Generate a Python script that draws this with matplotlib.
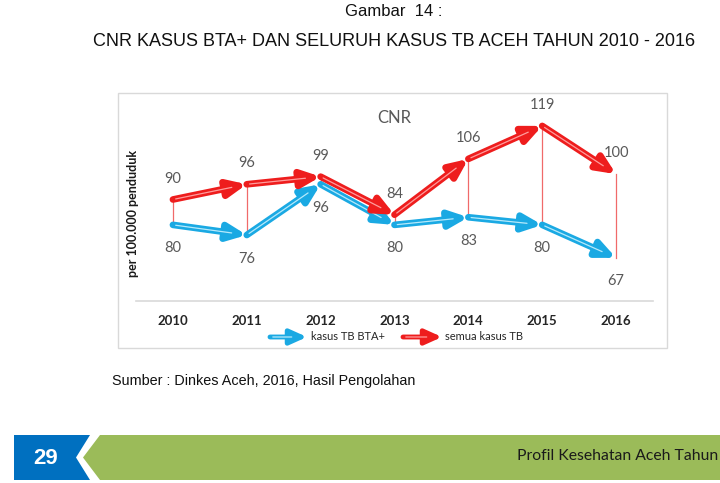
import matplotlib
matplotlib.use("Agg")
import matplotlib.pyplot as plt
from matplotlib.patches import Rectangle, Polygon

# data
years = ["2010", "2011", "2012", "2013", "2014", "2015", "2016"]
bta_pos = [80, 76, 96, 80, 83, 80, 67]        # kasus TB BTA+
semua_tb = [90, 96, 99, 84, 106, 119, 100]    # semua kasus TB

RED = "#ee1d1d"
RED_HI = "#ff9c9c"
BLUE = "#1aa9e3"
BLUE_HI = "#b5e9fb"
GREY_TXT = "#595959"

fig = plt.figure(figsize=(7.2, 4.83), dpi=100)

# page overlay in pixel coords (y down)
page = fig.add_axes([0, 0, 1, 1])
page.set_xlim(0, 720)
page.set_ylim(483, 0)
page.axis("off")

page.text(394, 11, "Gambar  14 :", ha="center", va="center",
          fontsize=12, family="Liberation Sans", color="#111111")
page.text(394, 42, "CNR KASUS BTA+ DAN SELURUH KASUS TB ACEH TAHUN 2010 - 2016",
          ha="center", va="center", fontsize=13.0, family="Liberation Sans",
          color="#111111")
page.text(112, 381, "Sumber : Dinkes Aceh, 2016, Hasil Pengolahan", ha="left",
          va="center", fontsize=10.4, family="Liberation Sans", color="#111111")

# chart frame
page.add_patch(Rectangle((118, 93), 549, 255, fill=False, ec="#d9d9d9", lw=1))

# footer band
page.add_patch(Polygon([(14, 435), (90, 435), (76, 457.5), (90, 480), (14, 480)],
                       closed=True, fc="#0070c0", ec="none"))
page.add_patch(Polygon([(100, 435), (720, 435), (720, 480), (100, 480), (83, 457.5)],
                       closed=True, fc="#9bbb59", ec="none"))
page.text(46, 458, "29", ha="center", va="center", fontsize=16, fontweight="bold",
          family="Liberation Sans", color="white")
page.text(718, 456, "Profil Kesehatan Aceh Tahun", ha="right", va="center",
          fontsize=11.3, family="Lato", color="#1a1a1a")


def arrow(ax, p0, p1, col, hi, lw=4.8, ms=11):
    ax.annotate("", xy=p1, xytext=p0,
                arrowprops=dict(arrowstyle="-|>,head_length=1.0,head_width=0.45",
                                color=col, lw=lw, shrinkA=0, shrinkB=0,
                                mutation_scale=ms))
    ax.annotate("", xy=p1, xytext=p0,
                arrowprops=dict(arrowstyle="-", color=hi, lw=0.9,
                                shrinkA=2, shrinkB=11))


# legend
arrow(page, (270, 337), (307, 337), BLUE, BLUE_HI, lw=3.5, ms=10)
page.text(311, 337, "kasus TB BTA+", ha="left", va="center", fontsize=8,
          family="Lato", color="#262626")
arrow(page, (403, 337), (442, 337), RED, RED_HI, lw=3.5, ms=10)
page.text(445, 337, "semua kasus TB", ha="left", va="center", fontsize=8,
          family="Lato", color="#262626")

# main chart
ax = fig.add_axes([136 / 720, 1 - 301 / 483, 517 / 720, 203 / 483])
ax.set_facecolor("none")
x = list(range(len(years)))
ax.set_xlim(-0.5, len(years) - 0.5)
ax.set_ylim(50, 130)

# drop lines between the two series
for i in x:
    ax.plot([i, i], [bta_pos[i], semua_tb[i]], color="#f06a6a", lw=0.9, zorder=1)

for i in range(len(x) - 1):
    arrow(ax, (x[i], bta_pos[i]), (x[i + 1], bta_pos[i + 1]), BLUE, BLUE_HI)
for i in range(len(x) - 1):
    arrow(ax, (x[i], semua_tb[i]), (x[i + 1], semua_tb[i + 1]), RED, RED_HI)

for i in x:
    ax.annotate(str(semua_tb[i]), (x[i], semua_tb[i]), xytext=(0, 15),
                textcoords="offset points", ha="center", va="center",
                fontsize=10.5, family="Lato", color=GREY_TXT)
    ax.annotate(str(bta_pos[i]), (x[i], bta_pos[i]), xytext=(0, -17),
                textcoords="offset points", ha="center", va="center",
                fontsize=10.5, family="Lato", color=GREY_TXT)

ax.text(0.5, 0.9, "CNR", transform=ax.transAxes, ha="center", va="center",
        fontsize=12, family="Lato", color=GREY_TXT)

ax.set_xticks(x)
ax.set_xticklabels(years, fontsize=9.5, fontweight="bold", family="Lato",
                   color="#262626")
ax.set_yticks([])
ax.tick_params(axis="x", length=0, pad=10)
for s in ["top", "right", "left"]:
    ax.spines[s].set_visible(False)
ax.spines["bottom"].set_color("#d9d9d9")
ax.spines["bottom"].set_linewidth(1.2)

fig.text(133 / 720, 1 - 213 / 483, "per 100.000 penduduk", rotation=90,
         ha="center", va="center", fontsize=9, fontweight="bold",
         family="Lato", color="#1a1a1a")

fig.savefig("out.png", dpi=100)
